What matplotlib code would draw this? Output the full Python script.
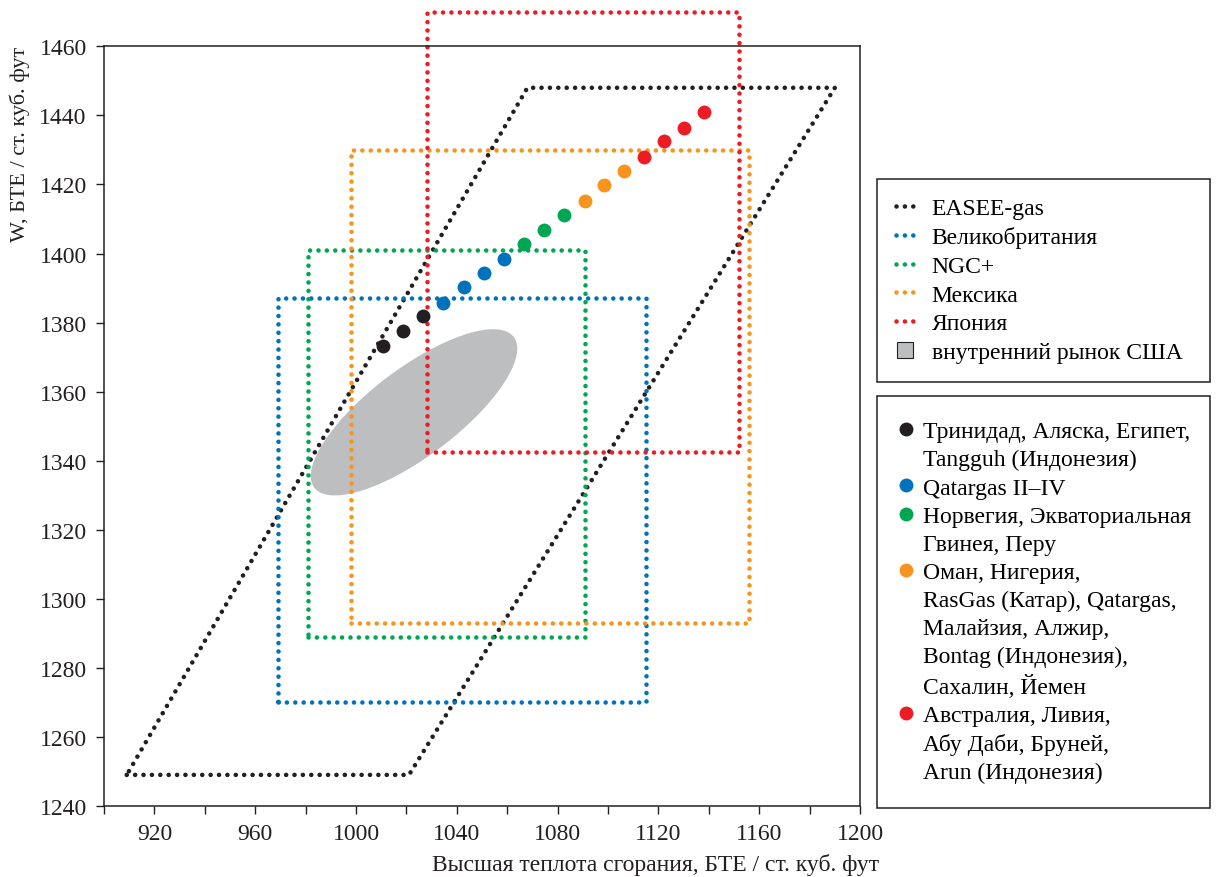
import numpy as np
import matplotlib.pyplot as plt
from matplotlib.lines import Line2D

plt.rcParams['font.family'] = ['Liberation Serif', 'DejaVu Serif']
plt.rcParams['font.size'] = 17

# spec regions (BTU/scf)
easee_x = [909, 1021, 1190, 1068]
easee_y = [1249, 1249, 1448, 1448]
uk_x = [969, 1115]
uk_y = [1270, 1387]
ngc_x = [981, 1091]
ngc_y = [1289, 1401]
mex_x = [998, 1156]
mex_y = [1293, 1430]
jap_x = [1028, 1152]
jap_y = [1342.5, 1470]

# LNG sources: heating value, Wobbe index
black_hv = [1010.8, 1018.8, 1026.7]
black_w = [1373.3, 1377.5, 1381.8]
blue_hv = [1034.5, 1043.0, 1050.8, 1058.7]
blue_w = [1385.7, 1390.2, 1394.4, 1398.4]
green_hv = [1066.5, 1074.5, 1082.4]
green_w = [1402.8, 1406.8, 1411.1]
orange_hv = [1090.8, 1098.4, 1106.2]
orange_w = [1415.3, 1419.8, 1423.8]
red_hv = [1114.3, 1122.1, 1130.3, 1138.0]
red_w = [1428.0, 1432.5, 1436.3, 1440.9]

# US domestic market ellipse: center and two conjugate semi-axes
ell_center = (1023, 1354)
ell_u = (39.6, 21.8)
ell_v = (10.5, -10.2)

spec_names = ['EASEE-gas', 'Великобритания', 'NGC+', 'Мексика', 'Япония', 'внутренний рынок США']
source_names = [
    ['Тринидад, Аляска, Египет,', 'Tangguh (Индонезия)'],
    ['Qatargas II–IV'],
    ['Норвегия, Экваториальная', 'Гвинея, Перу'],
    ['Оман, Нигерия,', 'RasGas (Катар), Qatargas,', 'Малайзия, Алжир,',
     'Bontag (Индонезия),', 'Сахалин, Йемен'],
    ['Австралия, Ливия,', 'Абу Даби, Бруней,', 'Arun (Индонезия)'],
]

c_black = '#231f20'
c_blue = '#0072bc'
c_green = '#00a651'
c_orange = '#f7941d'
c_red = '#ed1c24'
c_gray = '#bcbec0'
colors = [c_black, c_blue, c_green, c_orange, c_red]

fig = plt.figure(figsize=(12.17, 8.78), dpi=100)
ax = fig.add_axes([0.0855, 0.0809, 0.6212, 0.8652])

t = np.linspace(0, 2 * np.pi, 200)
ex = ell_center[0] + ell_u[0] * np.cos(t) + ell_v[0] * np.sin(t)
ey = ell_center[1] + ell_u[1] * np.cos(t) + ell_v[1] * np.sin(t)
ax.fill(ex, ey, color=c_gray, lw=0, zorder=1)

dot = dict(lw=3.3, linestyle=(0, (0.01, 1.82)), dash_capstyle='round', zorder=2)


def rect(xs, ys):
    return [xs[0], xs[1], xs[1], xs[0], xs[0]], [ys[0], ys[0], ys[1], ys[1], ys[0]]


ax.plot(easee_x + easee_x[:1], easee_y + easee_y[:1], color=c_black, **dot)
for xs, ys, c in [(uk_x, uk_y, c_blue), (ngc_x, ngc_y, c_green),
                  (mex_x, mex_y, c_orange), (jap_x, jap_y, c_red)]:
    px, py = rect(xs, ys)
    ax.plot(px, py, color=c, clip_on=False, **dot)

for hv, w, c in [(black_hv, black_w, c_black), (blue_hv, blue_w, c_blue),
                 (green_hv, green_w, c_green), (orange_hv, orange_w, c_orange),
                 (red_hv, red_w, c_red)]:
    ax.plot(hv, w, 'o', color=c, ms=10, mec='none', zorder=3)

ax.set_xlim(900, 1200)
ax.set_ylim(1240, 1460)
xt = np.arange(900, 1201, 20)
ax.set_xticks(xt)
ax.set_xticklabels([str(v) if v >= 920 and (v - 920) % 40 == 0 else '' for v in xt])
ax.set_yticks(np.arange(1240, 1461, 20))
ax.tick_params(direction='out', length=5.5, width=1, pad=7, color=c_black, labelcolor=c_black)
for s in ax.spines.values():
    s.set_linewidth(1.1)
    s.set_color(c_black)

ax.set_xlabel('Высшая теплота сгорания, БТЕ / ст. куб. фут', x=0.73, labelpad=6, color=c_black)
ax.set_ylabel('W, БТЕ / ст. куб. фут', y=0.872, labelpad=7, fontsize=16, color=c_black)

h1 = [Line2D([], [], color=c, **dot) for c in colors]
h1.append(Line2D([], [], marker='s', ls='none', ms=11, mfc=c_gray, mec=c_black, mew=0.8))
leg1 = fig.legend(h1, spec_names, loc='upper left', bbox_to_anchor=(0.7206, 0.5638, 0.2736, 0.2312),
                  bbox_transform=fig.transFigure, mode='expand', borderaxespad=0,
                  handlelength=0.75, handletextpad=0.76, labelspacing=0.3, borderpad=0.8,
                  fancybox=False, edgecolor=c_black, framealpha=1)
leg1.get_frame().set_linewidth(1.1)

# one legend row per text line; marker only on the first line of each entry
h2, l2 = [], []
for c, lines in zip(colors, source_names):
    for i, line in enumerate(lines):
        if i == 0:
            h2.append(Line2D([], [], marker='o', ls='none', ms=10, mfc=c, mec='none'))
        else:
            h2.append(Line2D([], [], ls='none'))
        l2.append(line)
leg2 = fig.legend(h2, l2, loc='upper left', bbox_to_anchor=(0.7206, 0.082, 0.2736, 0.4658),
                  bbox_transform=fig.transFigure, mode='expand', borderaxespad=0,
                  handlelength=0.37, handletextpad=0.55, labelspacing=0.28, borderpad=1.05,
                  fancybox=False, edgecolor=c_black, framealpha=1)
leg2.get_frame().set_linewidth(1.1)

fig.savefig('out.png', dpi=100)
